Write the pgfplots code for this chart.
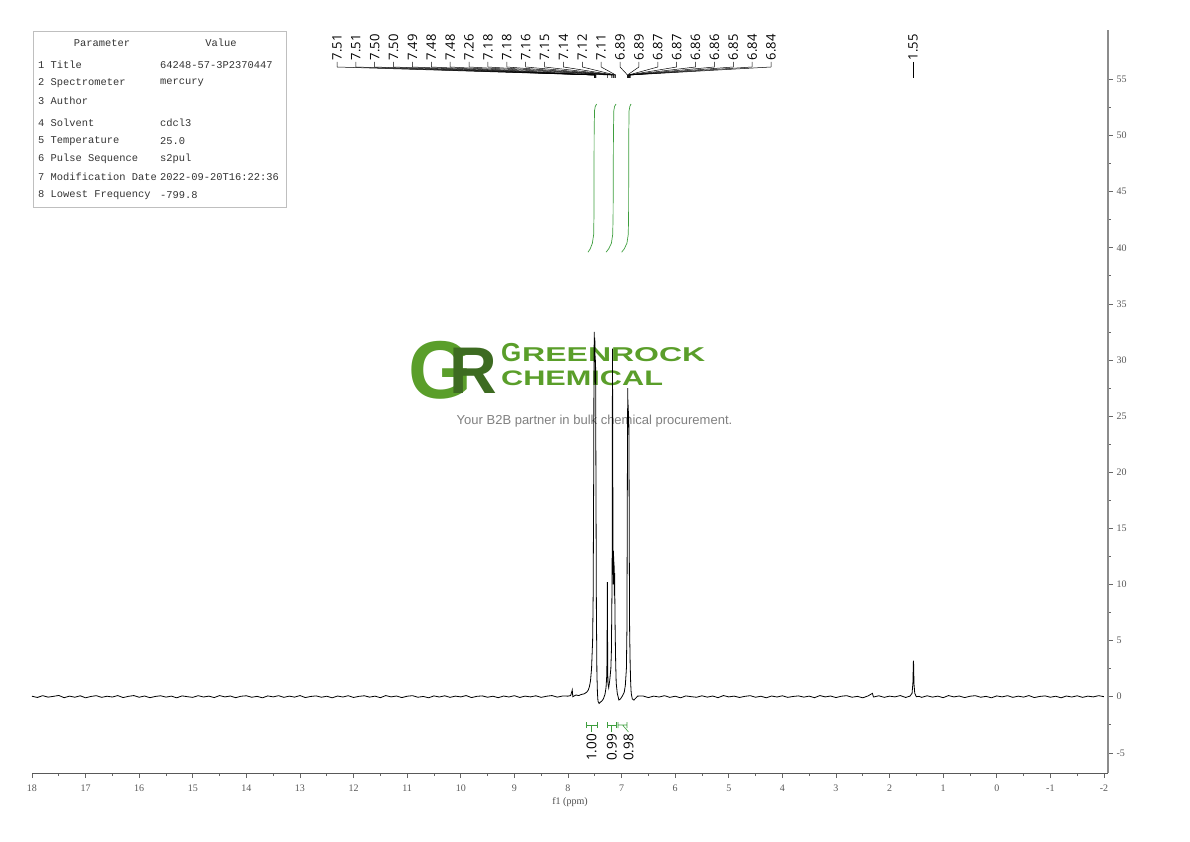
\documentclass[border=0pt]{standalone}
\usepackage{fontspec}
\setmainfont{Liberation Serif}
\newfontfamily\labfont{Open Sans}
\newfontfamily\monofont{Liberation Mono}
\newfontfamily\logofont{Liberation Sans}
\usepackage{graphicx}
\usepackage{pgfplots}
\pgfplotsset{compat=1.18}
\pgfdeclarelayer{bg}
\pgfsetlayers{bg,main}
\definecolor{intgreen}{HTML}{3E9E3E}
\definecolor{logogreen}{HTML}{5A9E2A}
\definecolor{logodark}{HTML}{3D6B21}
\begin{document}
\begin{tikzpicture}[x=1pt,y=1pt]
\begin{axis}[
    scale only axis, width=1076pt, height=743pt,
    x dir=reverse,
    xmin=-2.075, xmax=18, ymin=-6.8, ymax=59.4,
    axis x line*=bottom, axis y line*=right,
    xtick={-2,-1,...,18}, ytick={-5,0,...,55},
    minor x tick num=1, minor y tick num=1,
    tick align=outside, major tick length=5pt, minor tick length=3pt,
    every tick/.style={black!60, line width=0.6pt},
    x axis line style={black!65, line width=1pt, -},
    y axis line style={black!45, line width=1.6pt, -},
    ticklabel style={font=\fontsize{10}{10}\selectfont, text=black!65},
    xticklabel style={yshift=-3pt},
    /pgf/number format/assume math mode=true,
    xlabel={f1 (ppm)},
    xlabel style={font=\fontsize{10}{10}\selectfont, text=black!70, yshift=1pt},
    clip=false,
]
% integral curves
\addplot[intgreen, line width=0.7pt] coordinates {
 (7.627,39.6) (7.585,39.9) (7.545,40.4) (7.52,41.2) (7.515,43) (7.512,50) (7.505,52.2) (7.49,52.6) (7.465,52.8)};
\addplot[intgreen, line width=0.7pt] coordinates {
 (7.29,39.6) (7.24,39.9) (7.19,40.4) (7.165,41.2) (7.158,43) (7.152,50) (7.145,52.2) (7.13,52.6) (7.104,52.8)};
\addplot[intgreen, line width=0.7pt] coordinates {
 (6.998,39.6) (6.95,39.9) (6.90,40.4) (6.875,41.2) (6.869,43) (6.866,50) (6.86,52.2) (6.845,52.6) (6.825,52.8)};
% spectrum
\addplot[black, line width=0.8pt] coordinates {
 (18.0,0.04) (17.9,-0.07) (17.8,0.09) (17.7,-0.04) (17.6,0.03) (17.5,0.11) (17.4,-0.09) (17.3,0.05) (17.2,-0.05) (17.1,0.08) (17.0,-0.1) (16.9,0.02)
 (16.8,0.09) (16.7,-0.06) (16.6,0.04) (16.5,-0.03) (16.4,0.1) (16.3,-0.08) (16.2,0.03) (16.1,0.1) (16.0,-0.05) (15.9,0.06) (15.8,-0.09) (15.7,0.02)
 (15.6,0.08) (15.5,-0.04) (15.4,0.05) (15.3,-0.1) (15.2,0.07) (15.1,0.0) (15.0,-0.06) (14.9,0.09) (14.8,-0.03) (14.7,0.05) (14.6,-0.08) (14.5,0.1)
 (14.4,-0.02) (14.3,0.06) (14.2,-0.09) (14.1,0.04) (14.0,0.08) (13.9,-0.05) (13.8,0.03) (13.7,-0.1) (13.6,0.07) (13.5,-0.02) (13.4,0.09) (13.3,-0.06)
 (13.2,0.05) (13.1,-0.04) (13.0,0.1) (12.9,-0.08) (12.8,0.02) (12.7,0.07) (12.6,-0.05) (12.5,0.04) (12.4,-0.1) (12.3,0.06) (12.2,-0.03) (12.1,0.09)
 (12.0,-0.07) (11.9,0.03) (11.8,0.08) (11.7,-0.04) (11.6,0.05) (11.5,-0.09) (11.4,0.1) (11.3,-0.02) (11.2,0.06) (11.1,-0.08) (11.0,0.04) (10.9,0.09)
 (10.8,-0.05) (10.7,0.02) (10.6,-0.1) (10.5,0.07) (10.4,-0.03) (10.3,0.08) (10.2,-0.06) (10.1,0.05) (10.0,-0.02) (9.9,0.1) (9.8,-0.08) (9.7,0.03)
 (9.6,0.07) (9.5,-0.05) (9.4,0.04) (9.3,-0.09) (9.2,0.06) (9.1,-0.03) (9.0,0.09) (8.9,-0.07) (8.8,0.05) (8.7,-0.02) (8.6,0.08) (8.5,-0.06)
 (8.4,0.04) (8.3,0.1) (8.2,-0.04) (8.1,0.06)
 (8.0,0.05) (7.95,0.1) (7.92,0.6) (7.91,0.0) (7.85,0.15) (7.8,0.1) (7.75,0.2) (7.7,0.25) (7.65,0.4) (7.62,0.6) (7.6,0.9) (7.58,1.4)
 (7.56,2.5) (7.54,5) (7.53,9) (7.52,20) (7.515,29) (7.51,32.5) (7.505,30) (7.50,32) (7.495,31) (7.49,28) (7.485,30) (7.48,22)
 (7.47,8) (7.46,2) (7.45,0.3) (7.44,-0.4) (7.42,-0.6) (7.40,-0.5) (7.37,-0.4) (7.34,-0.2) (7.31,0.2) (7.29,0.8) (7.275,2) (7.27,5)
 (7.265,10.2) (7.26,4) (7.255,1.2) (7.24,0.8) (7.22,1.5) (7.20,2.5) (7.19,4) (7.18,9) (7.175,13) (7.17,31) (7.165,24) (7.16,12)
 (7.155,10) (7.15,13) (7.145,11) (7.14,12) (7.135,9) (7.13,11) (7.12,6) (7.11,3) (7.10,1.2) (7.08,0.3) (7.05,-0.3) (7.02,-0.2)
 (6.98,0.1) (6.95,0.4) (6.93,1) (6.91,2.5) (6.90,6) (6.895,14) (6.89,22) (6.885,27.5) (6.88,25) (6.875,26) (6.87,24) (6.865,25)
 (6.86,20) (6.855,12) (6.85,6) (6.84,3) (6.83,1.2) (6.82,0.3) (6.80,-0.2) (6.77,-0.3) (6.74,-0.15) (6.7,0.05)
 (6.6,0.06) (6.5,-0.08) (6.4,0.05) (6.3,-0.03) (6.2,0.09) (6.1,-0.06) (6.0,0.04) (5.9,-0.1) (5.8,0.07) (5.7,0.0) (5.6,-0.05) (5.5,0.08)
 (5.4,-0.04) (5.3,0.06) (5.2,-0.09) (5.1,0.1) (5.0,-0.02) (4.9,0.05) (4.8,-0.07) (4.7,0.03) (4.6,0.09) (4.5,-0.05) (4.4,0.04) (4.3,-0.1)
 (4.2,0.06) (4.1,-0.03) (4.0,0.08) (3.9,-0.06) (3.8,0.02) (3.7,0.07) (3.6,-0.04) (3.5,0.05) (3.4,-0.09) (3.3,0.1) (3.2,-0.02) (3.1,0.06)
 (3.0,-0.08) (2.9,0.04) (2.8,0.09) (2.7,-0.05) (2.6,0.03) (2.5,-0.1) (2.4,0.07) (2.32,0.3) (2.3,-0.03) (2.2,0.08) (2.1,-0.06) (2.0,0.05)
 (1.9,-0.02) (1.8,0.1) (1.7,-0.07) (1.62,0.05) (1.58,0.3) (1.565,1.2) (1.555,3.2) (1.55,2.8) (1.545,1.2) (1.53,0.3) (1.5,0.0) (1.45,0.03)
 (1.4,-0.06) (1.3,0.08) (1.2,-0.04) (1.1,0.05) (1.0,-0.09) (0.9,0.1) (0.8,-0.02) (0.7,0.06) (0.6,-0.08) (0.5,0.04) (0.4,0.09) (0.3,-0.05)
 (0.2,0.03) (0.1,-0.1) (0.0,0.07) (-0.1,-0.02) (-0.2,0.09) (-0.3,-0.06) (-0.4,0.05) (-0.5,-0.04) (-0.6,0.1) (-0.7,-0.08) (-0.8,0.02) (-0.9,0.07)
 (-1.0,-0.05) (-1.1,0.04) (-1.2,-0.1) (-1.3,0.06) (-1.4,-0.03) (-1.5,0.08) (-1.6,-0.06) (-1.7,0.05) (-1.8,-0.02) (-1.9,0.09) (-2.0,0.0)};
\coordinate (O) at (axis cs:18,-6.8);
\end{axis}
\begin{scope}[shift={(O)}, xshift=-32pt, yshift=-68pt]
% watermark, under the spectrum
\begin{pgfonlayer}{bg}
\node[inner sep=0, text=logogreen, font=\logofont\bfseries\fontsize{82}{82}\selectfont] at (440,471) {G};
\node[inner sep=0, text=logodark, font=\logofont\bfseries\fontsize{66}{66}\selectfont] at (473,470) {R};
\node[anchor=base west, inner sep=0, text=logogreen, font=\logofont\bfseries\fontsize{26}{26}\selectfont] at (501,479) {G};
\node[anchor=base west, inner sep=0, text=logogreen, font=\logofont\bfseries\fontsize{20}{20}\selectfont] at (522,479) {\scalebox{1.6}[1]{REENROCK}};
\node[anchor=base west, inner sep=0, text=logogreen, font=\logofont\bfseries\fontsize{21}{21}\selectfont] at (501,455) {\scalebox{1.46}[1]{CHEMICAL}};
\node[inner sep=0, text=black!50, font=\logofont\fontsize{13}{13}\selectfont] at (594.5,420) {Your B2B partner in bulk chemical procurement.};
\end{pgfonlayer}
% parameter table
\draw[black!25, line width=0.8pt] (33,810) rectangle (286,634);
\begin{scope}[every node/.style={inner sep=0, text=black!80, font=\monofont\fontsize{10.4}{10.4}\selectfont}]
\node at (102,798) {Parameter};
\node at (221,798) {Value};
\node[anchor=west] at (38,776) {1 Title};
\node[anchor=west] at (38,758) {2 Spectrometer};
\node[anchor=west] at (38,740) {3 Author};
\node[anchor=west] at (38,718) {4 Solvent};
\node[anchor=west] at (38,700) {5 Temperature};
\node[anchor=west] at (38,682) {6 Pulse Sequence};
\node[anchor=west] at (38,664) {7 Modification Date};
\node[anchor=west] at (38,646) {8 Lowest Frequency};
\node[anchor=west] at (160,776) {64248-57-3P2370447};
\node[anchor=west] at (160,758) {mercury};
\node[anchor=west] at (160,718) {cdcl3};
\node[anchor=west] at (160,700) {25.0};
\node[anchor=west] at (160,682) {s2pul};
\node[anchor=west] at (160,664) {2022-09-20T16:22:36};
\node[anchor=west] at (160,646) {-799.8};
\end{scope}
% peak labels
\foreach \v [count=\i from 0] in {7.51,7.51,7.50,7.50,7.49,7.48,7.48,7.26,7.18,7.18,7.16,7.15,7.14,7.12,7.11,6.89,6.89,6.87,6.87,6.86,6.86,6.85,6.84,6.84} {
  \pgfmathsetmacro\lx{337+\i*18.87}
  \pgfmathsetmacro\px{32+(18-\v)*53.599}
  \draw[black, line width=0.5pt] (\lx,779) -- (\lx,774) -- (\px,766) -- (\px,763);
  \node[rotate=90, anchor=west, inner sep=0, font=\labfont\fontsize{13}{13}\selectfont] at (\lx,780.5) {\v};
}
\draw[black, line width=0.5pt] (913,779) -- (913,763);
\node[rotate=90, anchor=west, inner sep=0, font=\labfont\fontsize{13}{13}\selectfont] at (913,780.5) {1.55};
% integration labels
\begin{scope}[intgreen, line width=0.6pt]
\draw (586,113) -- (586,119) (586,116) -- (597,116) (597,113) -- (597,119) (591.5,116) -- (591.5,109);
\draw (607,113) -- (607,119) (607,116) -- (616,116) (616,113) -- (616,119) (611.5,116) -- (611.5,109);
\draw (618,113) -- (618,119) (618,116) -- (627,116) (627,113) -- (627,119) (622.5,116) -- (628.5,109);
\end{scope}
\begin{scope}[every node/.style={rotate=90, anchor=east, inner sep=0, font=\labfont\fontsize{13.5}{13.5}\selectfont}]
\node at (591.5,107) {1.00};
\node at (611.7,107) {0.99};
\node at (628.5,107) {0.98};
\end{scope}
\pgfresetboundingbox
\path[use as bounding box] (0,0) rectangle (1190,841);
\end{scope}
\end{tikzpicture}
\end{document}
